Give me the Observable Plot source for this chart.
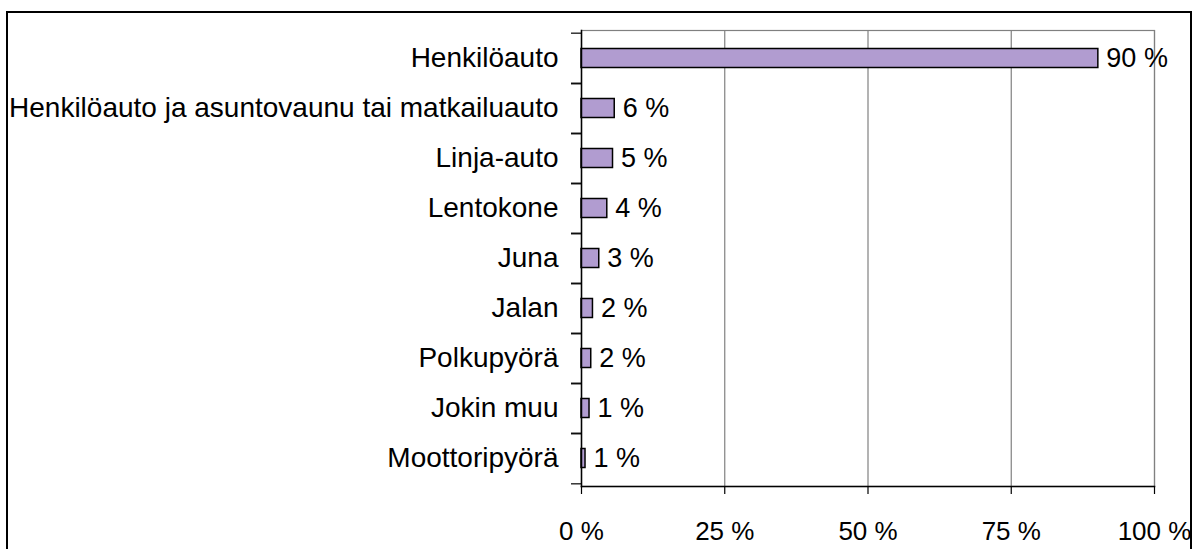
<!DOCTYPE html>
<html>
<head>
<meta charset="utf-8">
<script src="https://cdn.jsdelivr.net/npm/d3@7"></script>
<script src="https://cdn.jsdelivr.net/npm/@observablehq/plot@0.6"></script>
<style>
  html, body { margin: 0; padding: 0; background: #fff; overflow: hidden; }
  #wrap { position: relative; width: 1199px; height: 549px; }
  #border { position: absolute; left: 6px; top: 11px; width: 1186px; height: 600px; border: 2px solid #000; box-sizing: border-box; pointer-events: none; }
  svg { overflow: visible; }
</style>
</head>
<body>
<div id="wrap"><div id="border"></div></div>
<script>
const categories = [
  "Henkilöauto",
  "Henkilöauto ja asuntovaunu tai matkailuauto",
  "Linja-auto",
  "Lentokone",
  "Juna",
  "Jalan",
  "Polkupyörä",
  "Jokin muu",
  "Moottoripyörä"
];
const values = [90.2, 5.8, 5.5, 4.5, 3.1, 2.0, 1.7, 1.4, 0.7];
const labels = ["90 %", "6 %", "5 %", "4 %", "3 %", "2 %", "2 %", "1 %", "1 %"];
const xTicks = [0, 25, 50, 75, 100];

const data = categories.map((c, i) => ({category: c, value: values[i], label: labels[i]}));
const halfStep = (549 - 30 - 63) / categories.length / 2;

const chart = Plot.plot({
  width: 1199,
  height: 549,
  marginLeft: 581,
  marginRight: 45,
  marginTop: 30,
  marginBottom: 63,
  style: {fontFamily: "'Liberation Sans', Arial, sans-serif", background: "transparent", color: "#000", overflow: "visible"},
  x: {domain: [0, 100]},
  y: {domain: categories, padding: 0},
  marks: [
    Plot.frame({stroke: "#808080", strokeWidth: 1.2}),
    Plot.gridX(xTicks.slice(1), {stroke: "#808080", strokeOpacity: 1, strokeWidth: 1.2}),
    Plot.barX(data, {x: "value", y: "category", fill: "#b19cd0", stroke: "#000", strokeWidth: 1.5, insetTop: 15.5, insetBottom: 15.5}),
    Plot.text(data, {x: "value", y: "category", text: "label", textAnchor: "start", dx: 8, fontSize: 27, fill: "#000"}),
    Plot.axisY({tickSize: 0, tickPadding: 23, fontSize: 28, label: null}),
    Plot.axisY({tickSize: 10, tickFormat: () => "", dy: -halfStep, label: null, strokeWidth: 1.2}),
    Plot.axisY({tickSize: 10, tickFormat: () => "", dy: halfStep, label: null, strokeWidth: 1.2}),
    Plot.axisX({ticks: xTicks, tickSize: 8, tickPadding: 27, tickFormat: d => d + " %", fontSize: 26, label: null, strokeWidth: 1.2}),
    Plot.frame({anchor: "left", stroke: "#000", strokeWidth: 1.5}),
    Plot.frame({anchor: "bottom", stroke: "#000", strokeWidth: 1.5})
  ]
});
document.getElementById("wrap").prepend(chart);
</script>
</body>
</html>
